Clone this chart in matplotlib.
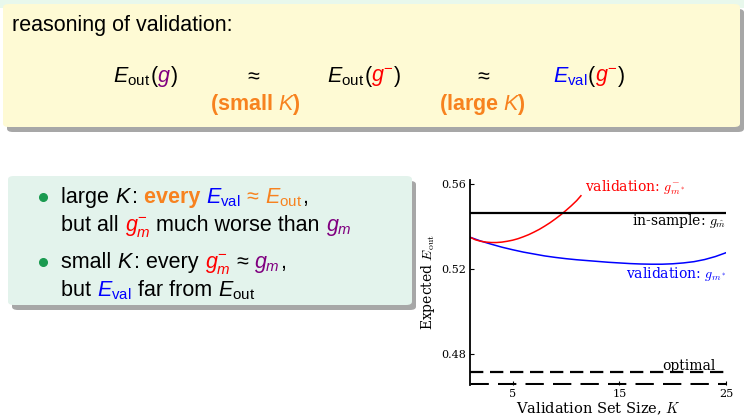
import matplotlib
matplotlib.use("Agg")
import matplotlib.pyplot as plt
from matplotlib.patches import FancyBboxPatch, Rectangle
from matplotlib.lines import Line2D

plt.rcParams['font.family'] = ['Liberation Sans', 'DejaVu Sans']
plt.rcParams['mathtext.fontset'] = 'custom'
plt.rcParams['mathtext.rm'] = 'Liberation Sans'
plt.rcParams['mathtext.it'] = 'Liberation Sans:italic'
plt.rcParams['mathtext.bf'] = 'Liberation Sans:bold'

# data
blue_K = [1, 2, 3, 4, 5, 6, 7, 8, 9, 10, 11, 12, 13, 14, 15, 16, 17, 18, 19, 20, 21, 22, 23, 24, 25]
blue_E = [0.535, 0.5332, 0.5317, 0.5303, 0.5291, 0.528, 0.5271, 0.5262, 0.5255, 0.5249, 0.5244,
          0.524, 0.5236, 0.5232, 0.5229, 0.5226, 0.5224, 0.5223, 0.5223, 0.5225, 0.5229, 0.5235,
          0.5245, 0.5259, 0.5277]
red_K = [1, 1.5, 2, 2.5, 3, 3.5, 4, 4.5, 5, 5.5, 6, 6.5, 7, 7.5, 8, 8.5, 9, 9.5, 10, 10.5, 11, 11.4]
red_E = [0.535, 0.5338, 0.5331, 0.5327, 0.5325, 0.5325, 0.5327, 0.5331, 0.5336, 0.5343, 0.5352,
         0.5362, 0.5374, 0.5387, 0.5402, 0.5418, 0.5436, 0.5455, 0.5476, 0.5498, 0.5522, 0.5545]
insample_E = 0.5464
optimal_E = 0.4715
bottom_E = 0.4655
x_ticks = [5, 15, 25]
y_ticks = [0.48, 0.52, 0.56]

W, H = 744, 418
fig = plt.figure(figsize=(W/100, H/100), dpi=100)
fig.patch.set_facecolor('white')
R = fig.canvas.get_renderer()

def fx(x): return x / W
def fy(y): return 1 - y / H

fig.patches.append(Rectangle((0, fy(8)), 1, 8/H, transform=fig.transFigure, facecolor='#e8f8ec', edgecolor='none'))
def box(x0, y0, x1, y1, fc):
    fig.patches.append(FancyBboxPatch((fx(x0+4), fy(y1+5)), fx(x1-x0), (y1-y0)/H,
        boxstyle="round,pad=0,rounding_size=0.008", transform=fig.transFigure,
        facecolor='#8a8a8a', edgecolor='none', alpha=0.75))
    fig.patches.append(FancyBboxPatch((fx(x0), fy(y1)), fx(x1-x0), (y1-y0)/H,
        boxstyle="round,pad=0,rounding_size=0.008", transform=fig.transFigure,
        facecolor=fc, edgecolor='none'))
box(3, 4, 740, 127, '#fefad4')
box(8, 176, 412, 305, '#e3f3ec')

def pieces(x, y, parts, size=15.5):
    for s, c, w in parts:
        t = fig.text(fx(x), fy(y), s, color=c, fontsize=size, fontweight=w, va='baseline', ha='left')
        bb = t.get_window_extent(R)
        x += bb.width

fig.text(fx(12), fy(31), 'reasoning of validation:', fontsize=15.5, va='baseline')
pieces(113, 82, [(r'$E_{\mathrm{out}}$', 'black', 'normal'), ('(', 'black', 'normal'), (r'$g$', '#800080', 'normal'), (')', 'black', 'normal')])
fig.text(fx(252), fy(82), r'$\approx$', fontsize=15.5, va='baseline', ha='center')
pieces(327, 82, [(r'$E_{\mathrm{out}}$', 'black', 'normal'), ('(', 'black', 'normal'), (r'$g^{-}$', 'red', 'normal'), (')', 'black', 'normal')])
fig.text(fx(482), fy(82), r'$\approx$', fontsize=15.5, va='baseline', ha='center')
pieces(553, 82, [(r'$E_{\mathrm{val}}$', 'blue', 'normal'), ('(', 'black', 'normal'), (r'$g^{-}$', 'red', 'normal'), (')', 'black', 'normal')])
orange = '#f7821f'
fig.text(fx(255), fy(110), r'(small $\mathbf{\mathit{K}}$)', fontsize=15.5, fontweight='bold', color=orange, va='baseline', ha='center')
fig.text(fx(482), fy(110), r'(large $\mathbf{\mathit{K}}$)', fontsize=15.5, fontweight='bold', color=orange, va='baseline', ha='center')

green = '#1a9a50'
for yb in (197, 262):
    fig.add_artist(Line2D([fx(43)], [fy(yb)], marker='o', markersize=5.5, color=green, transform=fig.transFigure))
pieces(61, 203, [('large ', 'black', 'normal'), (r'$K$', 'black', 'normal'), (': ', 'black', 'normal'),
                 ('every ', orange, 'bold'), (r'$E_{\mathrm{val}}$', 'blue', 'normal'),
                 ('\u00a0≈\u00a0', orange, 'normal'), (r'$E_{\mathrm{out}}$', orange, 'normal'), (',', 'black', 'normal')])
pieces(61, 231, [('but all ', 'black', 'normal'), (r'$g_m^{-}$', 'red', 'normal'),
                 (' much worse than ', 'black', 'normal'), (r'$g_m$', '#800080', 'normal')])
pieces(61, 268, [('small ', 'black', 'normal'), (r'$K$', 'black', 'normal'), (': every ', 'black', 'normal'),
                 (r'$g_m^{-}$', 'red', 'normal'), ('\u00a0≈\u00a0', 'black', 'normal'), (r'$g_m$', '#800080', 'normal'), (',', 'black', 'normal')])
pieces(61, 296, [('but ', 'black', 'normal'), (r'$E_{\mathrm{val}}$', 'blue', 'normal'),
                 (' far from ', 'black', 'normal'), (r'$E_{\mathrm{out}}$', 'black', 'normal')])

# chart
ax = fig.add_axes([fx(470), fy(385), fx(726-470), (385-180)/H])
ax.set_xlim(1, 25)
ax.set_ylim(bottom_E, 0.5619)
ax.plot(blue_K, blue_E, color='blue', lw=1.1)
ax.plot(red_K, red_E, color='red', lw=1.1)
ax.axhline(insample_E, color='black', lw=1.6)
ax.axhline(optimal_E, color='black', lw=1.6, ls=(0, (6, 3)))
ax.axhline(bottom_E + 0.0003, color='black', lw=2.2, ls=(0, (6, 3)))
for s in ('top', 'right', 'bottom'):
    ax.spines[s].set_visible(False)
ax.spines['left'].set_linewidth(1.3)
ax.set_xticks(x_ticks)
ax.set_yticks(y_ticks)
ax.set_yticklabels(['0.48', '0.52', '0.56'])
ax.tick_params(direction='in', length=3, labelsize=8, pad=3)
for lab in ax.get_xticklabels() + ax.get_yticklabels():
    lab.set_family('DejaVu Serif')
ax.set_ylabel(r'Expected $E_{\mathrm{out}}$', fontsize=10, family='DejaVu Serif', math_fontfamily='cm', labelpad=3)
ax.set_xlabel(r'Validation Set Size, $K$', fontsize=10.5, family='DejaVu Serif', math_fontfamily='cm', labelpad=1)
kw = dict(fontsize=10, family='DejaVu Serif', math_fontfamily='cm', va='center')
ax.text(11.8, 0.5585, r'validation: $g^{-}_{m^*}$', color='red', **kw)
ax.text(25, 0.5428, r'in-sample: $g_{\hat m}$', color='black', ha='right', **kw)
ax.text(25, 0.5176, r'validation: $g_{m^*}$', color='blue', ha='right', **kw)
ax.text(24, 0.4742, 'optimal', color='black', ha='right', **kw)

fig.savefig('out.png', dpi=100, facecolor=fig.get_facecolor())
